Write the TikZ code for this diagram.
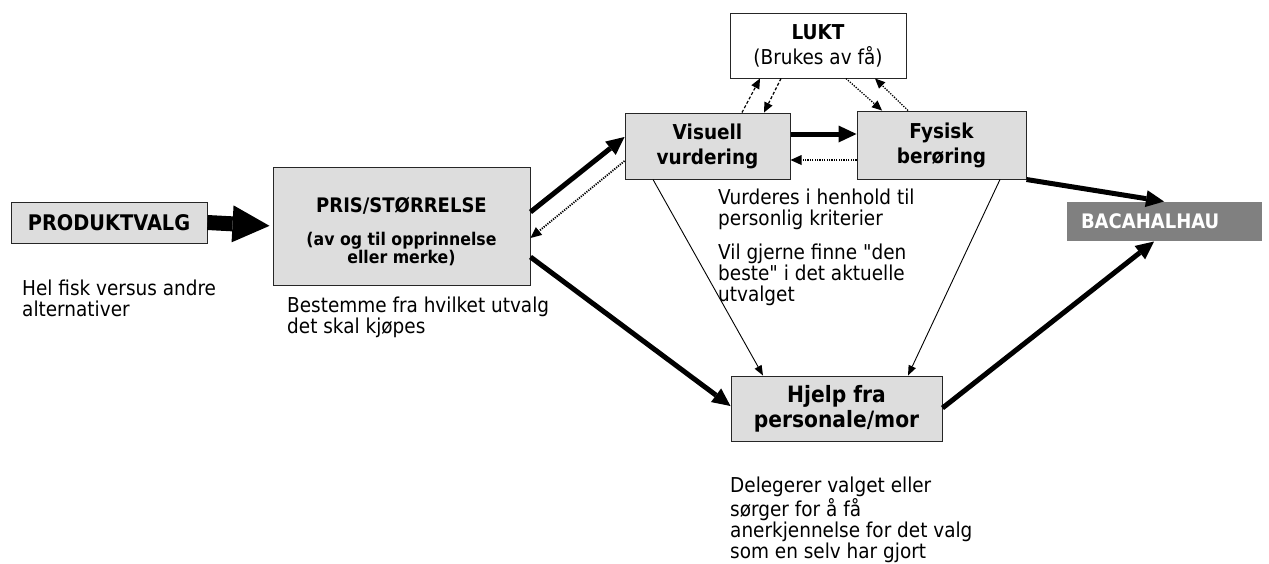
\documentclass[tikz,border=0pt]{standalone}
\usepackage{fontspec}
\setmainfont{DejaVu Sans}[FakeStretch=0.9, Ligatures=TeXOff]
\usetikzlibrary{arrows.meta}
\definecolor{boxgray}{HTML}{DDDDDD}
\definecolor{bacgray}{HTML}{808080}
\begin{document}
\begin{tikzpicture}[x=1pt,y=-1pt,
  box/.style={draw=black!85, line width=1pt, fill=boxgray, inner sep=0pt, align=center,
    font=\bfseries\fontsize{20.5}{25}\selectfont},
  captext/.style={anchor=north west, inner sep=0pt, align=left, font=\fontsize{20.5}{21}\selectfont},
  blockarrow/.style={line width=15pt, -{Triangle[length=37pt,width=37pt,line width=0pt]}, shorten >=3pt},
  bigarrow/.style={line width=5pt, -{Triangle[length=18pt,width=17pt,line width=0pt]}},
  thinarrow/.style={line width=0.9pt, -{Triangle[length=10pt,width=8pt,line width=0pt]}},
  dotarrow/.style={line width=1.8pt, dash pattern=on 1.2pt off 1.2pt, -{Triangle[length=11pt,width=10pt,line width=0pt]}},
  finedotarrow/.style={line width=1.3pt, dash pattern=on 1.3pt off 1.3pt, -{Triangle[length=10pt,width=9pt,line width=0pt]}},
  dasharrow/.style={line width=1.2pt, dash pattern=on 3pt off 2pt, -{Triangle[length=10pt,width=9pt,line width=0pt]}},
]
\useasboundingbox (0,0) rectangle (1269,563);

% boxes
\node[box, minimum width=196pt, minimum height=41pt, font=\bfseries\fontsize{21.5}{25}\selectfont] (prod) at (109,222.5) {PRODUKTVALG};
\node[box, minimum width=257pt, minimum height=118pt] (pris) at (401.5,226) {};
\node[anchor=base, inner sep=0pt, font=\bfseries\fontsize{20}{23}\selectfont] (pristitle) at (401.5,212) {PRIS/STØRRELSE};
\node[anchor=base, inner sep=0pt, font=\bfseries\fontsize{17.5}{18}\selectfont] (prissubA) at (401.5,245) {(av og til opprinnelse};
\node[anchor=base, inner sep=0pt, font=\bfseries\fontsize{17.5}{18}\selectfont] (prissubB) at (401.5,263) {eller merke)};
\node[box, minimum width=165pt, minimum height=66pt] (vis) at (707.5,146) {Visuell\\vurdering};
\node[box, minimum width=169pt, minimum height=68pt] (fys) at (941.5,145) {Fysisk\\berøring};
\node[box, fill=white, minimum width=176pt, minimum height=65pt] (lukt) at (818,45.5) {LUKT\\{\mdseries (Brukes av få)}};
\node[box, draw=none, fill=bacgray, text=white, font=\bfseries\fontsize{20}{22}\selectfont,
  minimum width=195pt, minimum height=39pt, text width=167pt, align=left] (bac) at (1164.5,221.5) {BACAHALHAU};
\node[box, minimum width=211pt, minimum height=65pt, font=\bfseries\fontsize{22.5}{25}\selectfont] (hjelp) at (836.5,408.5) {Hjelp fra\\personale/mor};

% captions
\node[captext] (hel) at (22,280) {Hel fisk versus andre\\alternativer};
\node[captext] (best) at (287,297) {Bestemme fra hvilket utvalg\\det skal kjøpes};
\node[captext] (vurdA) at (718,189) {Vurderes i henhold til\\personlig kriterier};
\node[captext] (vurdB) at (718,244) {Vil gjerne finne "den\\beste" i det aktuelle\\utvalget};
\node[captext] (deleg) at (730,477) {Delegerer valget eller\\sørger for å få\\anerkjennelse for det valg\\som en selv har gjort};

% connectors
\draw[blockarrow] (prod.east) -- (pris.west);
\draw[bigarrow] (pris.east |- 0,212) -- (vis.west |- 0,137);
\draw[dotarrow] (vis.west |- 0,161) -- (pris.east |- 0,238);
\draw[bigarrow] (pris.east |- 0,257) -- (hjelp.west |- 0,406);
\draw[bigarrow] (vis.east |- 0,134) -- (fys.west |- 0,134);
\draw[dotarrow] (fys.west |- 0,160) -- (vis.east |- 0,160);
\draw[bigarrow] (fys.south east) -- (1164,0 |- bac.north);
\draw[bigarrow] (hjelp.east |- 0,408) -- (1154,0 |- bac.south);
\draw[thinarrow] (653,0 |- vis.south) -- (763,0 |- hjelp.north);
\draw[thinarrow] (1000,0 |- fys.south) -- (908,0 |- hjelp.north);
\draw[dasharrow] (742,0 |- vis.north) -- (760,0 |- lukt.south);
\draw[dasharrow] (781,0 |- lukt.south) -- (764,0 |- vis.north);
\draw[finedotarrow] (846,0 |- lukt.south) -- (882,0 |- fys.north);
\draw[finedotarrow] (908,0 |- fys.north) -- (875,0 |- lukt.south);
\end{tikzpicture}
\end{document}
